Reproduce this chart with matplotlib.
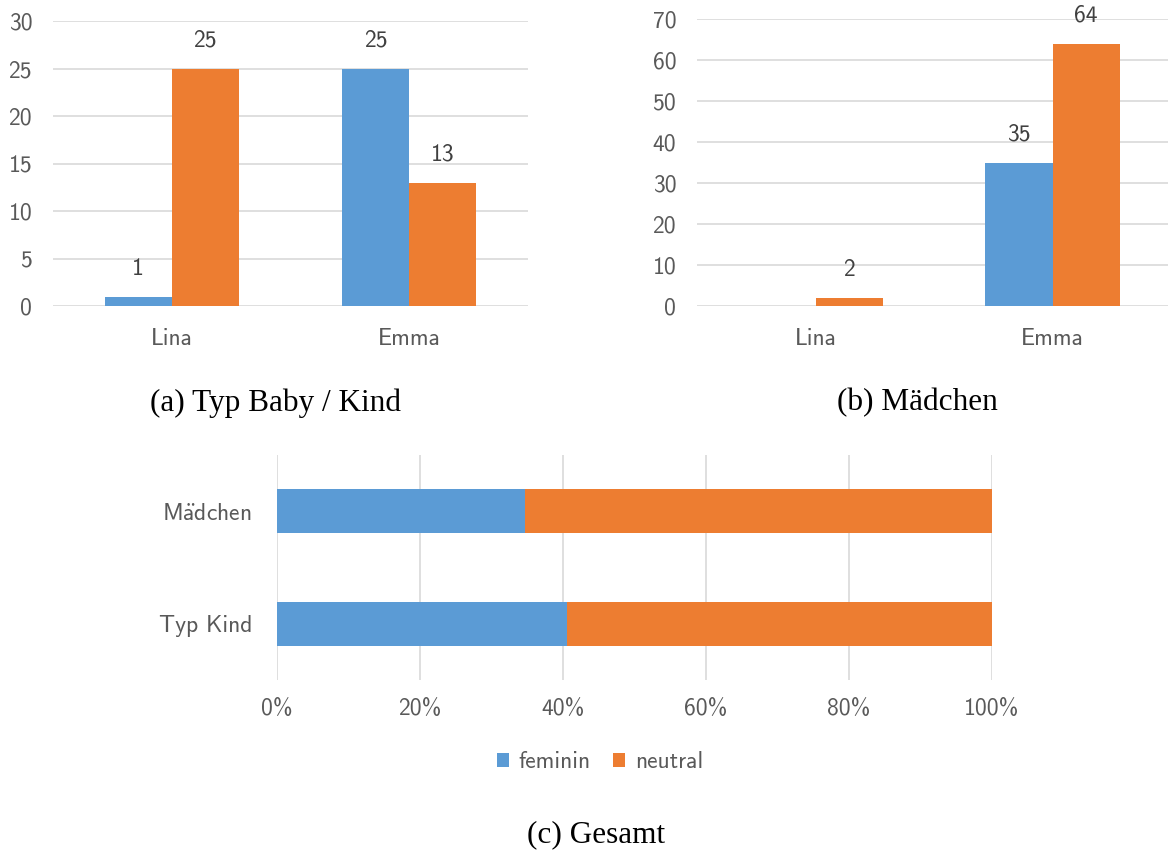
import numpy as np
import matplotlib
matplotlib.use("Agg")
import matplotlib.pyplot as plt
from matplotlib.patches import Patch

# ---- data ----
namen = ["Lina", "Emma"]
kind_feminin = [1, 25]
kind_neutral = [25, 13]
maedchen_feminin = [0, 35]
maedchen_neutral = [2, 64]

gesamt_kategorien = ["Typ Kind", "Mädchen"]
gesamt_feminin = [26, 35]
gesamt_neutral = [38, 66]

reihen = ["feminin", "neutral"]

# ---- style ----
BLAU = "#5B9BD5"
ORANGE = "#ED7D31"
GRID = "#D9D9D9"
TICK = "#595959"
LABEL = "#404040"
SANS = "cmss10"
SERIF = "Liberation Serif"
FS = 17

plt.rcParams["mathtext.fontset"] = "cm"
plt.rcParams["axes.formatter.use_mathtext"] = True

W, H = 1168, 850
fig = plt.figure(figsize=(W / 100, H / 100), dpi=100)


def px_axes(left, top, right, bottom):
    return fig.add_axes([left / W, 1 - bottom / H, (right - left) / W, (bottom - top) / H])


def sans_text(s):
    # cmss10 has no precomposed umlaut; build it from the accent
    return s.replace("ä", r"$\ddot{\mathsf{a}}$")


def clean(ax):
    for sp in ax.spines.values():
        sp.set_visible(False)
    ax.set_facecolor("none")


def balken(ax, feminin, neutral, ymax, step):
    x = np.arange(len(namen))
    w = 0.283
    for werte, off, col in ((feminin, -w / 2, BLAU), (neutral, w / 2, ORANGE)):
        ax.bar(x + off, werte, w, color=col, zorder=3, linewidth=0)
        for xi, v in zip(x + off, werte):
            if v:
                ax.annotate(str(v), (xi, v), xytext=(0, 20), textcoords="offset points",
                            ha="center", va="center", fontsize=FS, family=SANS, color=LABEL)
    ax.set_xlim(-0.5, 1.5)
    ax.set_ylim(0, ymax)
    ax.set_yticks(np.arange(0, ymax + 1, step))
    ax.set_yticklabels([str(t) for t in np.arange(0, ymax + 1, step)])
    ax.set_xticks(x)
    ax.set_xticklabels(namen)
    ax.grid(axis="y", color=GRID, linewidth=1.2, zorder=0)
    ax.grid(axis="x", visible=False)
    ax.tick_params(axis="both", length=0, colors=TICK, labelsize=FS)
    ax.tick_params(axis="y", pad=15)
    ax.tick_params(axis="x", pad=16)
    for lab in ax.get_xticklabels() + ax.get_yticklabels():
        lab.set_family(SANS)
    clean(ax)


ax1 = px_axes(53, 21, 528, 306)
balken(ax1, kind_feminin, kind_neutral, 30, 5)

ax2 = px_axes(697, 19, 1171, 306)
balken(ax2, maedchen_feminin, maedchen_neutral, 70, 10)

# ---- 100 % stacked bars ----
ax3 = px_axes(277, 455, 992, 680)
fem = np.array(gesamt_feminin, dtype=float)
neu = np.array(gesamt_neutral, dtype=float)
summe = fem + neu
anteil_f = fem / summe
anteil_n = neu / summe
y = np.arange(len(gesamt_kategorien))
ax3.barh(y, anteil_f, 0.39, color=BLAU, zorder=3, linewidth=0)
ax3.barh(y, anteil_n, 0.39, left=anteil_f, color=ORANGE, zorder=3, linewidth=0)
ax3.set_xlim(0, 1)
ax3.set_ylim(-0.5, 1.5)
ticks = np.linspace(0, 1, 6)
ax3.set_xticks(ticks)
ax3.set_xticklabels([f"{int(round(t * 100))}%" for t in ticks])
ax3.set_yticks(y)
ax3.set_yticklabels([sans_text(k) for k in gesamt_kategorien])
ax3.grid(axis="x", color=GRID, linewidth=1.2, zorder=0)
ax3.grid(axis="y", visible=False)
ax3.tick_params(axis="both", length=0, colors=TICK, labelsize=FS)
ax3.tick_params(axis="x", pad=13)
ax3.tick_params(axis="y", pad=18)
for lab in ax3.get_xticklabels() + ax3.get_yticklabels():
    lab.set_family(SANS)
clean(ax3)

handles = [Patch(facecolor=BLAU, label=reihen[0]), Patch(facecolor=ORANGE, label=reihen[1])]
fig.legend(handles=handles, loc="center", bbox_to_anchor=(600 / W, 1 - 762 / H), ncol=2,
           frameon=False, handlelength=0.52, handleheight=0.52, handletextpad=0.4,
           columnspacing=0.95, prop={"family": SANS, "size": FS}, labelcolor=TICK)

# ---- captions ----
fig.text(275 / W, 1 - 403 / H, "(a) Typ Baby / Kind", ha="center", va="center",
         family=SERIF, fontsize=22.5, color="black")
fig.text(917 / W, 1 - 403 / H, "(b) Mädchen", ha="center", va="center",
         family=SERIF, fontsize=22.5, color="black")
fig.text(596 / W, 1 - 835 / H, "(c) Gesamt", ha="center", va="center",
         family=SERIF, fontsize=22.5, color="black")

fig.savefig("out.png", dpi=100, facecolor="white")
